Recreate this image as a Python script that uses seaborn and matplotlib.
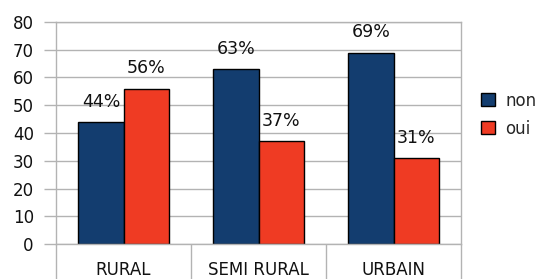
import matplotlib
matplotlib.use("Agg")

import matplotlib.pyplot as plt
import pandas as pd
import seaborn as sns
from matplotlib.ticker import FixedLocator

zones = ["RURAL", "SEMI RURAL", "URBAIN"]
non_values = [44, 63, 69]
oui_values = [56, 37, 31]
series = ["non", "oui"]
colors = {"non": "#133d6f", "oui": "#ef3b23"}

df = pd.DataFrame({
    "zone": zones * 2,
    "reponse": ["non"] * len(zones) + ["oui"] * len(zones),
    "valeur": non_values + oui_values,
})

sns.set_theme(style="white")
plt.rcParams["font.family"] = ["DejaVu Sans"]

fig = plt.figure(figsize=(5.42, 2.79), dpi=100)
ax = fig.add_axes([56 / 542, 1 - 244 / 279, 405 / 542, 222 / 279])

sns.barplot(
    data=df, x="zone", y="valeur", hue="reponse", hue_order=series,
    palette=colors, width=0.667, edgecolor="black", linewidth=1,
    saturation=1, ax=ax,
)

for cont in ax.containers:
    ax.bar_label(cont, fmt="%d%%", padding=8, fontsize=12.5, color="#111111")

ax.set_ylim(0, 80)
ax.set_xlim(-0.5, 2.5)
ax.set_yticks(range(0, 81, 10))
ax.yaxis.grid(True, color="#b3b3b3", linewidth=1)
ax.set_axisbelow(True)
ax.tick_params(axis="y", length=9, width=1, color="#b3b3b3", pad=7,
               labelsize=12, labelcolor="#111111", left=True)
ax.tick_params(axis="x", which="major", length=0, pad=12, labelsize=12,
               labelcolor="#111111")
ax.xaxis.set_minor_locator(FixedLocator([-0.5, 0.5, 1.5, 2.5]))
ax.tick_params(axis="x", which="minor", length=30, width=1, color="#b3b3b3",
               bottom=True)
for sp in ax.spines.values():
    sp.set_color("#b3b3b3")
    sp.set_linewidth(1)
ax.set_xlabel("")
ax.set_ylabel("")

sns.move_legend(
    ax, "center left", bbox_to_anchor=(1.05, 0.583), title=None,
    frameon=False, fontsize=12, handlelength=0.85, handleheight=0.85,
    handletextpad=0.6, labelspacing=0.6, borderaxespad=0, borderpad=0,
)

fig.savefig("out.png", dpi=100)
